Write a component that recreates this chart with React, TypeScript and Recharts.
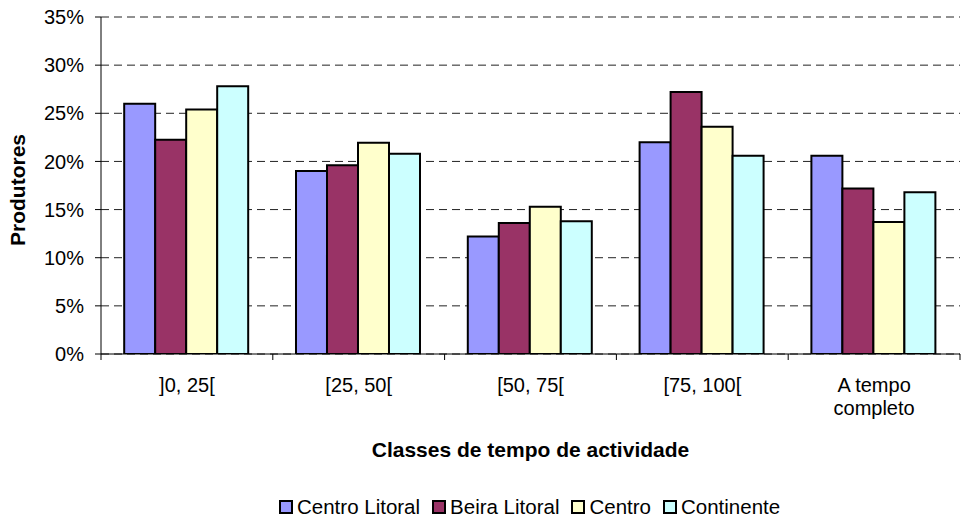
import React from 'react';
import { BarChart, Bar, XAxis, YAxis, CartesianGrid, Legend, Label } from 'recharts';

const categories = [']0, 25[', '[25, 50[', '[50, 75[', '[75, 100[', 'A tempo\ncompleto'];
const centroLitoral = [26.0, 19.0, 12.2, 22.0, 20.6];
const beiraLitoral = [22.25, 19.6, 13.6, 27.2, 17.2];
const centro = [25.4, 21.95, 15.3, 23.6, 13.7];
const continente = [27.8, 20.8, 13.8, 20.6, 16.8];
const yTicks = [0, 5, 10, 15, 20, 25, 30, 35];

const seriesNames = ['Centro Litoral', 'Beira Litoral', 'Centro', 'Continente'];
const seriesKeys = ['cl', 'bl', 'ce', 'co'];
const seriesColors = ['#9999FF', '#993366', '#FFFFCC', '#CCFFFF'];

const data = categories.map((c, i) => ({
  name: c,
  cl: centroLitoral[i],
  bl: beiraLitoral[i],
  ce: centro[i],
  co: continente[i],
}));

const FONT = '"Liberation Sans", Arial, sans-serif';

const CategoryTick = (props: any) => {
  const { x, y, payload, index, visibleTicksCount } = props;
  const lines = String(payload.value).split('\n');
  const half = payload && typeof payload.offset === 'number' ? payload.offset : 0;
  const isLast = index === visibleTicksCount - 1;
  return (
    <g>
      {half > 0 && <line x1={x - half} x2={x - half} y1={y} y2={y + 6} stroke="#000" />}
      {half > 0 && isLast && <line x1={x + half} x2={x + half} y1={y} y2={y + 6} stroke="#000" />}
      <text x={x} y={y} textAnchor="middle" fontSize={20} fill="#000" fontFamily={FONT}>
        {lines.map((l, i) => (
          <tspan key={i} x={x} dy={i === 0 ? 38 : 23}>{l}</tspan>
        ))}
      </text>
    </g>
  );
};

const LegendContent = () => (
  <div style={{ display: 'flex', alignItems: 'center', height: 22, fontFamily: FONT, fontSize: 20.5, lineHeight: '22px', color: '#000', whiteSpace: 'nowrap' }}>
    {seriesNames.map((n, i) => (
      <div key={n} style={{ display: 'flex', alignItems: 'center', marginRight: 12 }}>
        <span style={{ display: 'inline-block', width: 10, height: 10, border: '2px solid #000', background: seriesColors[i], marginRight: 4 }} />
        <span>{n}</span>
      </div>
    ))}
  </div>
);

const YTitle = () => (
  <text x={17} y={190} transform="rotate(-90, 17, 190)" textAnchor="middle" dominantBaseline="central" fontSize={21} fontWeight="bold" fill="#000" fontFamily={FONT}>
    Produtores
  </text>
);

export default function App() {
  return (
    <div style={{ position: 'absolute', left: 0, top: 0, width: 963, height: 520, background: '#fff' }}>
      <BarChart
        width={963}
        height={520}
        data={data}
        margin={{ top: 17, right: 3, left: 0, bottom: 40 }}
        barCategoryGap="13.5%"
        barGap={0}
        style={{ fontFamily: FONT }}
      >
        <CartesianGrid horizontal vertical={false} stroke="#222" strokeDasharray="8 5" />
        <XAxis
          dataKey="name"
          tick={<CategoryTick />}
          tickLine={false}
          tickSize={0}
          tickMargin={0}
          interval={0}
          axisLine={{ stroke: '#000' }}
          height={104}
        >
          <Label value="Classes de tempo de actividade" position="insideBottom" offset={1} style={{ fontSize: 21, fontWeight: 'bold', fill: '#000', fontFamily: FONT }} />
        </XAxis>
        <YAxis
          width={101}
          domain={[0, 35]}
          ticks={yTicks}
          tickFormatter={(v) => `${v}%`}
          tick={{ fontSize: 20, fill: '#000', fontFamily: FONT }}
          tickSize={6}
          tickMargin={11}
          tickLine={{ stroke: '#000' }}
          axisLine={{ stroke: '#000' }}
          allowDataOverflow
        >
          <Label content={<YTitle />} />
        </YAxis>
        {seriesKeys.map((k, i) => (
          <Bar key={k} dataKey={k} name={seriesNames[i]} fill={seriesColors[i]} stroke="#000" strokeWidth={2} isAnimationActive={false} />
        ))}
        <Legend content={<LegendContent />} wrapperStyle={{ left: 279, top: 496, width: 'auto' }} />
      </BarChart>
    </div>
  );
}
